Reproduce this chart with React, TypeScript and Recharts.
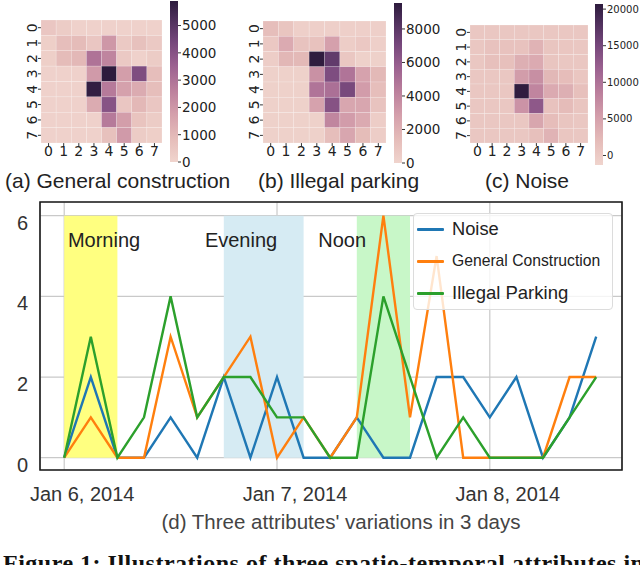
import React from "react";
import {
  LineChart,
  Line,
  XAxis,
  YAxis,
  CartesianGrid,
  ReferenceArea,
  ReferenceDot,
  ScatterChart,
  Scatter,
  BarChart,
  Bar,
} from "recharts";

// ---- heatmaps: 8x8 grid cells, row by row ----
const cellIdx = [0, 1, 2, 3, 4, 5, 6, 7];

const constructionGrid = [
  [500, 300, 100, 100, 100, 100, 100, 100],
  [200, 800, 900, 500, 2000, 400, 700, 400],
  [200, 900, 1000, 3000, 2500, 400, 100, 300],
  [100, 100, 100, 1900, 5900, 1800, 4200, 800],
  [100, 100, 100, 5800, 2800, 1700, 1400, 800],
  [100, 100, 100, 1400, 4000, 500, 1000, 500],
  [100, 100, 100, 100, 2800, 1800, 600, 300],
  [100, 100, 100, 100, 700, 1900, 300, 200],
];

const parkingGrid = [
  [1300, 900, 300, 300, 300, 300, 300, 300],
  [700, 2300, 1000, 1100, 2800, 400, 700, 300],
  [400, 1700, 1600, 9500, 7800, 800, 200, 200],
  [200, 200, 200, 3500, 6800, 4800, 2700, 1600],
  [200, 200, 200, 4800, 5000, 7000, 3000, 1300],
  [200, 200, 200, 2700, 6500, 2500, 2500, 1000],
  [200, 200, 200, 200, 4000, 3000, 2300, 400],
  [200, 200, 200, 200, 1300, 2500, 1400, 400],
];

const noiseGrid = [
  [500, 500, 500, 500, 500, 500, 500, 500],
  [500, 1200, 1200, 1200, 3000, 800, 600, 500],
  [500, 1500, 1500, 3500, 4000, 800, 500, 500],
  [500, 500, 500, 5500, 7000, 2500, 1800, 600],
  [500, 500, 500, 20500, 8000, 4000, 3500, 1500],
  [500, 500, 500, 6500, 13000, 1200, 2000, 800],
  [500, 500, 500, 500, 4500, 1800, 800, 500],
  [500, 500, 500, 500, 1500, 3000, 600, 500],
];

const constructionTicks = [0, 1000, 2000, 3000, 4000, 5000];
const parkingTicks = [0, 2000, 4000, 6000, 8000];
const noiseTicks = [0, 5000, 10000, 15000, 20000];

// ---- line chart: 3-hour slots over 3 days ----
const slots = [0, 1, 2, 3, 4, 5, 6, 7, 8, 9, 10, 11, 12, 13, 14, 15, 16, 17, 18, 19, 20];
const noise = [0, 2, 0, 0, 1, 0, 2, 0, 2, 0, 0, 1, 0, 0, 2, 2, 1, 2, 0, 1, 3];
const construction = [0, 1, 0, 0, 3, 1, 2, 3, 0, 1, 0, 1, 6, 1, 5, 0, 0, 0, 0, 2, 2];
const parking = [0, 3, 0, 1, 4, 1, 2, 2, 1, 1, 0, 0, 4, 2, 0, 1, 0, 0, 0, 1, 2];

const dayTicks = [0, 8, 16];
const dayLabels = ["Jan 6, 2014", "Jan 7, 2014", "Jan 8, 2014"];
const valueTicks = [0, 2, 4, 6];

const periods = ["Morning", "Evening", "Noon"];
const periodFrom = [0, 6, 11];
const periodTo = [2, 9, 13];
const periodLabelAt = [0.14, 5.29, 9.55];
const periodColors = ["#ffff80", "#d6ebf3", "#c8f7c8"];

const seriesKeys = ["noise", "construction", "parking"];
const seriesNames = ["Noise", "General Construction", "Illegal Parking"];
const seriesColors = ["#1f77b4", "#ff7f0e", "#2ca02c"];

const lineData = slots.map((t, i) => ({
  t,
  noise: noise[i],
  construction: construction[i],
  parking: parking[i],
}));

// cubehelix-like pink -> purple
const cmapStops: [number, number[]][] = [
  [0, [240, 212, 205]],
  [0.15, [229, 188, 185]],
  [0.3, [212, 159, 171]],
  [0.45, [187, 127, 156]],
  [0.6, [155, 97, 144]],
  [0.75, [116, 70, 122]],
  [0.9, [74, 45, 88]],
  [1, [45, 27, 61]],
];

function cmap(t: number) {
  const v = Math.max(0, Math.min(1, t));
  for (let i = 1; i < cmapStops.length; i++) {
    const [t1, c1] = cmapStops[i];
    const [t0, c0] = cmapStops[i - 1];
    if (v <= t1) {
      const f = (v - t0) / (t1 - t0);
      const c = c0.map((a, k) => Math.round(a + (c1[k] - a) * f));
      return `rgb(${c[0]},${c[1]},${c[2]})`;
    }
  }
  return "rgb(45,27,61)";
}

const tickFont = "DejaVu Sans";
const sans = "Liberation Sans, Arial, sans-serif";

function Heatmap({ grid, left, top, w, h, vmin, vmax }: any) {
  const cells: any[] = [];
  grid.forEach((row: number[], r: number) =>
    row.forEach((v, c) => cells.push({ x: cellIdx[c], y: cellIdx[r], v }))
  );
  const cw = w / 8;
  const ch = h / 8;
  return (
    <div style={{ position: "absolute", left: left - 30, top }}>
      <ScatterChart width={w + 30} height={h + 22} margin={{ top: 0, right: 0, bottom: 0, left: 0 }}>
        <XAxis
          type="number"
          dataKey="x"
          domain={[-0.5, 7.5]}
          ticks={cellIdx}
          interval={0}
          height={22}
          axisLine={false}
          tickSize={3}
          tickMargin={0}
          tickLine={{ stroke: "#333" }}
          tick={{ fontSize: 14, fontFamily: tickFont, fill: "#222" }}
        />
        <YAxis
          type="number"
          dataKey="y"
          domain={[-0.5, 7.5]}
          reversed
          ticks={cellIdx}
          interval={0}
          width={30}
          axisLine={false}
          tickSize={3}
          tickMargin={0}
          tickLine={{ stroke: "#333" }}
          tick={({ x, y, payload }: any) => (
            <text
              x={x - 6}
              y={y}
              transform={`rotate(-90 ${x - 6} ${y})`}
              textAnchor="middle"
              dominantBaseline="central"
              fontSize={14}
              fontFamily={tickFont}
              fill="#222"
            >
              {payload.value}
            </text>
          )}
        />
        <Scatter
          data={cells}
          isAnimationActive={false}
          shape={(p: any) => (
            <rect
              x={p.cx - cw / 2}
              y={p.cy - ch / 2}
              width={cw}
              height={ch}
              fill={cmap((p.payload.v - vmin) / (vmax - vmin))}
              stroke="rgba(255,255,255,0.3)"
              strokeWidth={0.6}
            />
          )}
        />
      </ScatterChart>
    </div>
  );
}

function Colorbar({ id, left, top, height, vmin, vmax, ticks, fontSize }: any) {
  const pad = 9;
  return (
    <div style={{ position: "absolute", left, top: top - pad }}>
      <BarChart
        width={68}
        height={height + pad * 2}
        data={[{ n: "c", v: [vmin, vmax] }]}
        margin={{ top: pad, right: 0, bottom: pad, left: 0 }}
        barCategoryGap={0}
      >
        <defs>
          <linearGradient id={id} x1="0" y1="1" x2="0" y2="0">
            {cmapStops.map(([t]) => (
              <stop key={t} offset={t} stopColor={cmap(t)} />
            ))}
          </linearGradient>
        </defs>
        <XAxis dataKey="n" hide />
        <YAxis
          orientation="right"
          type="number"
          domain={[vmin, vmax]}
          ticks={ticks}
          interval={0}
          width={60}
          axisLine={false}
          tickSize={3}
          tickMargin={1}
          tickLine={{ stroke: "#333" }}
          tick={{ fontSize, fontFamily: tickFont, fill: "#222" }}
        />
        <Bar dataKey="v" fill={`url(#${id})`} isAnimationActive={false} />
      </BarChart>
    </div>
  );
}

const DayTick = ({ x, y, payload }: any) => (
  <text x={x + 18} y={y + 31} textAnchor="middle" fontSize={20} fontFamily={sans} fill="#333">
    {dayLabels[dayTicks.indexOf(payload.value)]}
  </text>
);

const ValueTick = ({ x, y, payload }: any) => (
  <text x={x} y={y + 7} textAnchor="end" dominantBaseline="central" fontSize={20} fontFamily={sans} fill="#333">
    {payload.value}
  </text>
);

const legendSizes = [18.3, 15.7, 18.5];

const LegendBox = () => (
  <div
    style={{
      position: "absolute",
      left: 413,
      top: 213,
      width: 198,
      height: 95,
      border: "1px solid #dcdcdc",
      borderRadius: 4,
      background: "rgba(255,255,255,0.8)",
      fontFamily: sans,
      color: "#222",
    }}
  >
    {seriesNames.map((name, i) => (
      <div
        key={name}
        style={{ position: "absolute", left: 3, top: 15 + i * 32 - 12, height: 24, display: "flex", alignItems: "center" }}
      >
        <div style={{ width: 27, height: 3, background: seriesColors[i], borderRadius: 1 }} />
        <span style={{ marginLeft: 8, fontSize: legendSizes[i], whiteSpace: "nowrap" }}>{name}</span>
      </div>
    ))}
  </div>
);

export default function App() {
  return (
    <div
      style={{
        position: "absolute",
        left: 0,
        top: 0,
        width: 640,
        height: 565,
        overflow: "hidden",
        background: "#fff",
      }}
    >
      <Heatmap grid={constructionGrid} left={41} top={20} w={121} h={123} vmin={0} vmax={5900} />
      <Colorbar id="cbA" left={170} top={1} height={161} vmin={0} vmax={5900} ticks={constructionTicks} fontSize={13.5} />
      <Heatmap grid={parkingGrid} left={263} top={21} w={123} h={122} vmin={0} vmax={9550} />
      <Colorbar id="cbB" left={394} top={3} height={160} vmin={0} vmax={9550} ticks={parkingTicks} fontSize={13.5} />
      <Heatmap grid={noiseGrid} left={470} top={25} w={118} h={118} vmin={-1300} vmax={20700} />
      <Colorbar id="cbC" left={595} top={4} height={161} vmin={-1300} vmax={20700} ticks={noiseTicks} fontSize={10} />

      <div style={{ position: "absolute", left: 0, top: 195 }}>
        <LineChart width={640} height={310} data={lineData} margin={{ top: 7, right: 18, bottom: 5, left: 10 }}>
          {periods.map((p, i) => (
            <ReferenceArea
              key={p}
              x1={periodFrom[i]}
              x2={periodTo[i]}
              y1={0}
              y2={6}
              fill={periodColors[i]}
              fillOpacity={1}
              stroke="none"
            />
          ))}
          <CartesianGrid stroke="#c9c9c9" strokeWidth={1.2} />
          <XAxis
            type="number"
            dataKey="t"
            domain={[-0.91, 20.97]}
            ticks={dayTicks}
            interval={0}
            height={30}
            axisLine={false}
            tickLine={false}
            tickSize={0}
            tickMargin={0}
            tick={<DayTick />}
          />
          <YAxis
            type="number"
            domain={[-0.305, 6.34]}
            ticks={valueTicks}
            interval={0}
            width={30}
            axisLine={false}
            tickLine={false}
            tickSize={0}
            tickMargin={12}
            tick={<ValueTick />}
          />
          {periods.map((p, i) => (
            <ReferenceDot
              key={p + "-label"}
              x={periodLabelAt[i]}
              y={5.22}
              r={1}
              fill="none"
              stroke="none"
              label={({ viewBox }: any) => (
                <text
                  x={viewBox.x + viewBox.width / 2}
                  y={viewBox.y + viewBox.height / 2}
                  fontSize={20}
                  fontFamily={sans}
                  fill="#222"
                >
                  {p}
                </text>
              )}
            />
          ))}
          {seriesKeys.map((k, i) => (
            <Line
              key={k}
              dataKey={k}
              name={seriesNames[i]}
              stroke={seriesColors[i]}
              strokeWidth={2.4}
              dot={false}
              type="linear"
              isAnimationActive={false}
            />
          ))}
          <ReferenceArea
            x1={-0.91}
            x2={20.97}
            y1={-0.305}
            y2={6.34}
            fill="none"
            stroke="#1a1a1a"
            strokeWidth={1.6}
            ifOverflow="visible"
          />
        </LineChart>
      </div>

      <LegendBox />

      <svg
        width={640}
        height={565}
        style={{ position: "absolute", left: 0, top: 0, pointerEvents: "none" }}
      >
        <text x={5} y={188} fontSize={21} fontFamily={sans} fill="#222">
          (a) General construction
        </text>
        <text x={258} y={188} fontSize={21} fontFamily={sans} fill="#222">
          (b) Illegal parking
        </text>
        <text x={485} y={188} fontSize={21} fontFamily={sans} fill="#222">
          (c) Noise
        </text>
        <text x={341} y={529} textAnchor="middle" fontSize={20.5} fontFamily={sans} fill="#444">
          (d) Three attributes' variations in 3 days
        </text>
        <text
          x={3}
          y={571}
          fontSize={24}
          fontWeight="bold"
          letterSpacing={0.5}
          fontFamily="Liberation Serif, serif"
          fill="#111"
        >
          Figure 1: Illustrations of three spatio-temporal attributes in
        </text>
      </svg>
    </div>
  );
}
